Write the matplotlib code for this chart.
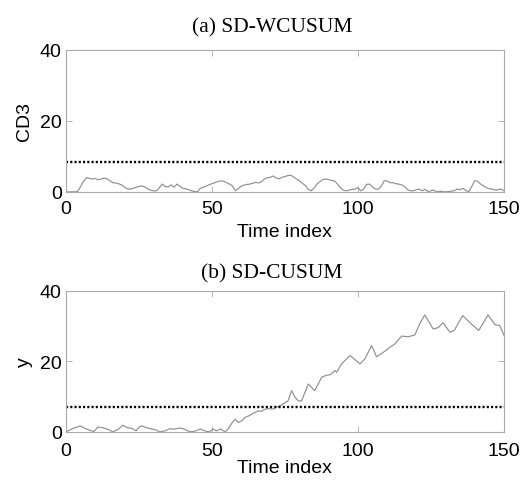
import matplotlib
matplotlib.use('Agg')
import matplotlib.pyplot as plt

# (a) SD-WCUSUM statistic
t_a = [0, 3, 4, 5, 6, 7, 8, 9, 10, 11, 12, 13, 14, 15, 16, 17, 18, 19, 20,
       21, 22, 23, 24, 25, 26, 27, 28, 29, 30, 31, 32, 33, 34, 35, 36, 37, 38,
       39, 40, 41, 42, 43, 44, 45, 46, 47, 48, 49, 50, 51, 52, 53, 54, 55, 56,
       57, 58, 59, 60, 61, 62, 63, 64, 65, 66, 67, 68, 69, 70, 71, 72, 73, 74,
       75, 76, 77, 78, 79, 80, 81, 82, 83, 84, 85, 86, 87, 88, 89, 90, 91, 92,
       93, 94, 95, 96, 97, 98, 99, 100, 101, 102, 103, 104, 105, 106, 107, 108,
       109, 110, 111, 112, 113, 114, 115, 116, 117, 118, 119, 120, 121, 122,
       123, 124, 125, 126, 127, 128, 129, 130, 131, 132, 133, 134, 135, 136,
       137, 138, 139, 140, 141, 142, 143, 144, 145, 146, 147, 148, 149, 150]
cd3 = [0, 0, 0.1, 1.5, 3.0, 4.0, 3.8, 3.6, 3.8, 3.4, 3.6, 3.9, 3.7, 3.2, 2.6,
       2.5, 2.3, 2.0, 1.3, 0.9, 0.75, 1.0, 1.3, 1.5, 1.7, 1.4, 0.8, 0.5, 0.3,
       0.3, 1.2, 2.2, 1.5, 1.4, 2.0, 1.3, 2.2, 1.6, 1.0, 0.9, 0.6, 0.3, 0.1,
       0.0, 1.0, 1.3, 1.6, 2.0, 2.3, 2.6, 2.9, 3.1, 3.0, 2.6, 2.2, 1.7, 0.3,
       0.9, 1.6, 1.9, 2.1, 2.2, 2.4, 2.7, 2.5, 2.9, 3.6, 4.0, 4.1, 4.5, 3.9,
       3.7, 4.1, 4.3, 4.6, 4.7, 4.2, 3.6, 3.1, 2.4, 1.8, 0.75, 0.3, 1.1, 2.2,
       2.9, 3.5, 3.6, 3.5, 3.2, 3.1, 2.2, 1.2, 0.5, 0.3, 0.5, 0.7, 0.75, 1.2,
       0.3, 0.8, 2.1, 2.2, 1.4, 0.8, 0.75, 1.6, 3.1, 3.1, 2.6, 2.6, 2.3, 2.2,
       2.0, 1.5, 0.6, 0.3, 0.3, 0.6, 0.8, 0.3, 0.7, 0.1, 0.3, 0.5, 0.0, 0.2,
       0.1, 0.0, 0.1, 0.2, 0.3, 0.8, 0.6, 1.0, 0.4, 0.0, 1.5, 3.1, 3.0, 2.2,
       1.7, 1.2, 0.9, 0.8, 0.5, 0.6, 0.8, 0.3]
h_a = 8.3

# (b) SD-CUSUM statistic
t_b = [0, 3, 5, 6.5, 8, 9.5, 11, 13, 15, 16, 18, 19.5, 21, 22.5, 24, 25, 26,
       27.5, 29.5, 31, 32, 34, 35.5, 37, 39, 40.5, 42.5, 44.5, 46, 47.5, 49,
       50.5, 51.5, 53, 54.5, 55.5, 57, 58, 59, 60.2, 61.3, 62.5, 63.6, 64.7,
       66, 67, 68, 69.3, 71, 72, 73.3, 75, 76, 77.3, 78.5, 79.6, 80.7, 83,
       85.2, 87.6, 89.3, 90.5, 92.1, 92.7, 94.4, 97.3, 100.7, 102.4, 104.7,
       106.4, 108.7, 111, 112.7, 115, 117.2, 119.5, 121.2, 122.9, 125.8, 127.5,
       129.2, 131.5, 133, 135.9, 138.4, 141.4, 144.6, 147, 148.6, 150]
y_b = [0, 1.2, 1.7, 1.0, 0.5, 0.1, 1.4, 1.1, 0.5, 0, 0.8, 1.9, 1.2, 1.0, 0.3,
       1.4, 1.7, 1.2, 0.8, 0.5, 0, 0.3, 0.9, 0.8, 1.1, 0.8, 0, 0.3, 0.8, 0.3,
       0, 0.8, 0.3, 0.8, 0, 0.8, 2.7, 3.6, 2.7, 3.1, 4.1, 4.5, 5.0, 5.5, 6.0,
       5.8, 6.4, 6.6, 6.5, 7.0, 7.4, 8.3, 8.7, 11.7, 9.8, 8.8, 8.8, 13.6, 11.7,
       15.5, 16.1, 16.2, 17.4, 16.9, 19.3, 21.7, 19.3, 20.7, 24.5, 21.3, 22.6,
       24.0, 25.0, 27.2, 27.0, 27.5, 30.7, 33.2, 29.2, 29.6, 31.0, 28.3, 28.8,
       33.0, 31.0, 28.8, 33.2, 30.4, 30.2, 27.5]
h_b = 6.95

xticks = [0, 50, 100, 150]
yticks = [0, 20, 40]

plt.rcParams['font.family'] = 'Liberation Sans'

fig = plt.figure(figsize=(5.25, 4.81), dpi=100)
ax1 = fig.add_axes([0.1257, 0.599, 0.834, 0.295])
ax2 = fig.add_axes([0.1257, 0.1, 0.834, 0.293])

panels = [(ax1, t_a, cd3, h_a, 'CD3', '(a) SD-WCUSUM', 13, 6, 4),
          (ax2, t_b, y_b, h_b, 'y', '(b) SD-CUSUM', 10, 7, 0)]
for ax, x, y, h, ylab, title, tpad, xpad, lpad in panels:
    ax.plot(x, y, color='#8f8f8f', lw=0.85)
    ax.axhline(h, color='black', lw=1.7, linestyle=(0, (0.9, 0.9)))
    ax.set_xlim(0, 150)
    ax.set_ylim(0, 40)
    ax.set_xticks(xticks)
    ax.set_yticks(yticks)
    ax.tick_params(direction='in', length=4, width=0.6, color='#aaaaaa',
                   labelsize=14, top=True, right=True, pad=3)
    ax.tick_params(axis='x', pad=xpad)
    for s in ax.spines.values():
        s.set_color('#aaaaaa')
        s.set_linewidth(0.8)
    ax.set_xlabel('Time index', fontsize=14, labelpad=lpad)
    ax.set_ylabel(ylab, fontsize=14, labelpad=5)
    ax.set_title(title, fontsize=15.5, family='Liberation Serif', pad=tpad,
                 x=0.47)

fig.savefig('out.png', dpi=100)
